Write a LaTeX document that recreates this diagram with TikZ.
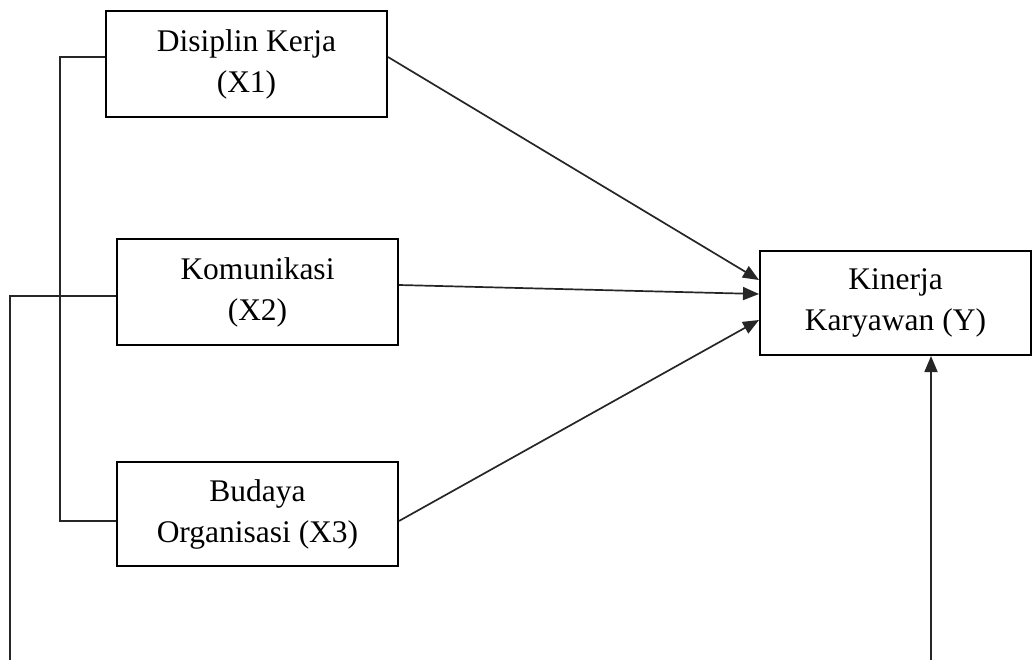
\documentclass[tikz,border=0pt]{standalone}
\usepackage{fontspec}
\setmainfont{Liberation Serif}
\usetikzlibrary{arrows.meta}
\begin{document}
\begin{tikzpicture}[x=1pt,y=-1pt,
  box/.style={draw, line width=2pt, align=center, inner sep=0pt,
    font=\fontsize{31.5}{41}\selectfont, text=black},
  conn/.style={line width=1.7pt, black!85},
  arr/.style={conn, -{Triangle[length=16pt,width=13pt]}}]
\useasboundingbox (0,0) rectangle (1032,660);
\node[box, minimum width=281pt, minimum height=106pt] (d) at (246.5,64) {Disiplin Kerja\\(X1)};
\node[box, minimum width=281pt, minimum height=106pt] (k) at (257.5,292) {Komunikasi\\(X2)};
\node[box, minimum width=281pt, minimum height=104pt] (b) at (257.5,514) {Budaya\\Organisasi (X3)};
\node[box, minimum width=271pt, minimum height=104pt] (y) at (895.5,303) {Kinerja\\Karyawan (Y)};
\coordinate (bl) at (10,661);
\coordinate (br) at (931,661);
\draw[conn] ([yshift=7pt]d.west) -| (60,521) -- ([yshift=-7pt]b.west);
\draw[conn] ([yshift=-4pt]k.west) -| (bl);
\draw[arr] ([yshift=7pt]d.east) -- ([yshift=23pt]y.west);
\draw[arr] ([yshift=7pt]k.east) -- ([yshift=9pt]y.west);
\draw[arr] ([yshift=-7pt]b.east) -- ([yshift=-17pt]y.west);
\draw[arr] (br) -- (br |- y.south);
\end{tikzpicture}
\end{document}
